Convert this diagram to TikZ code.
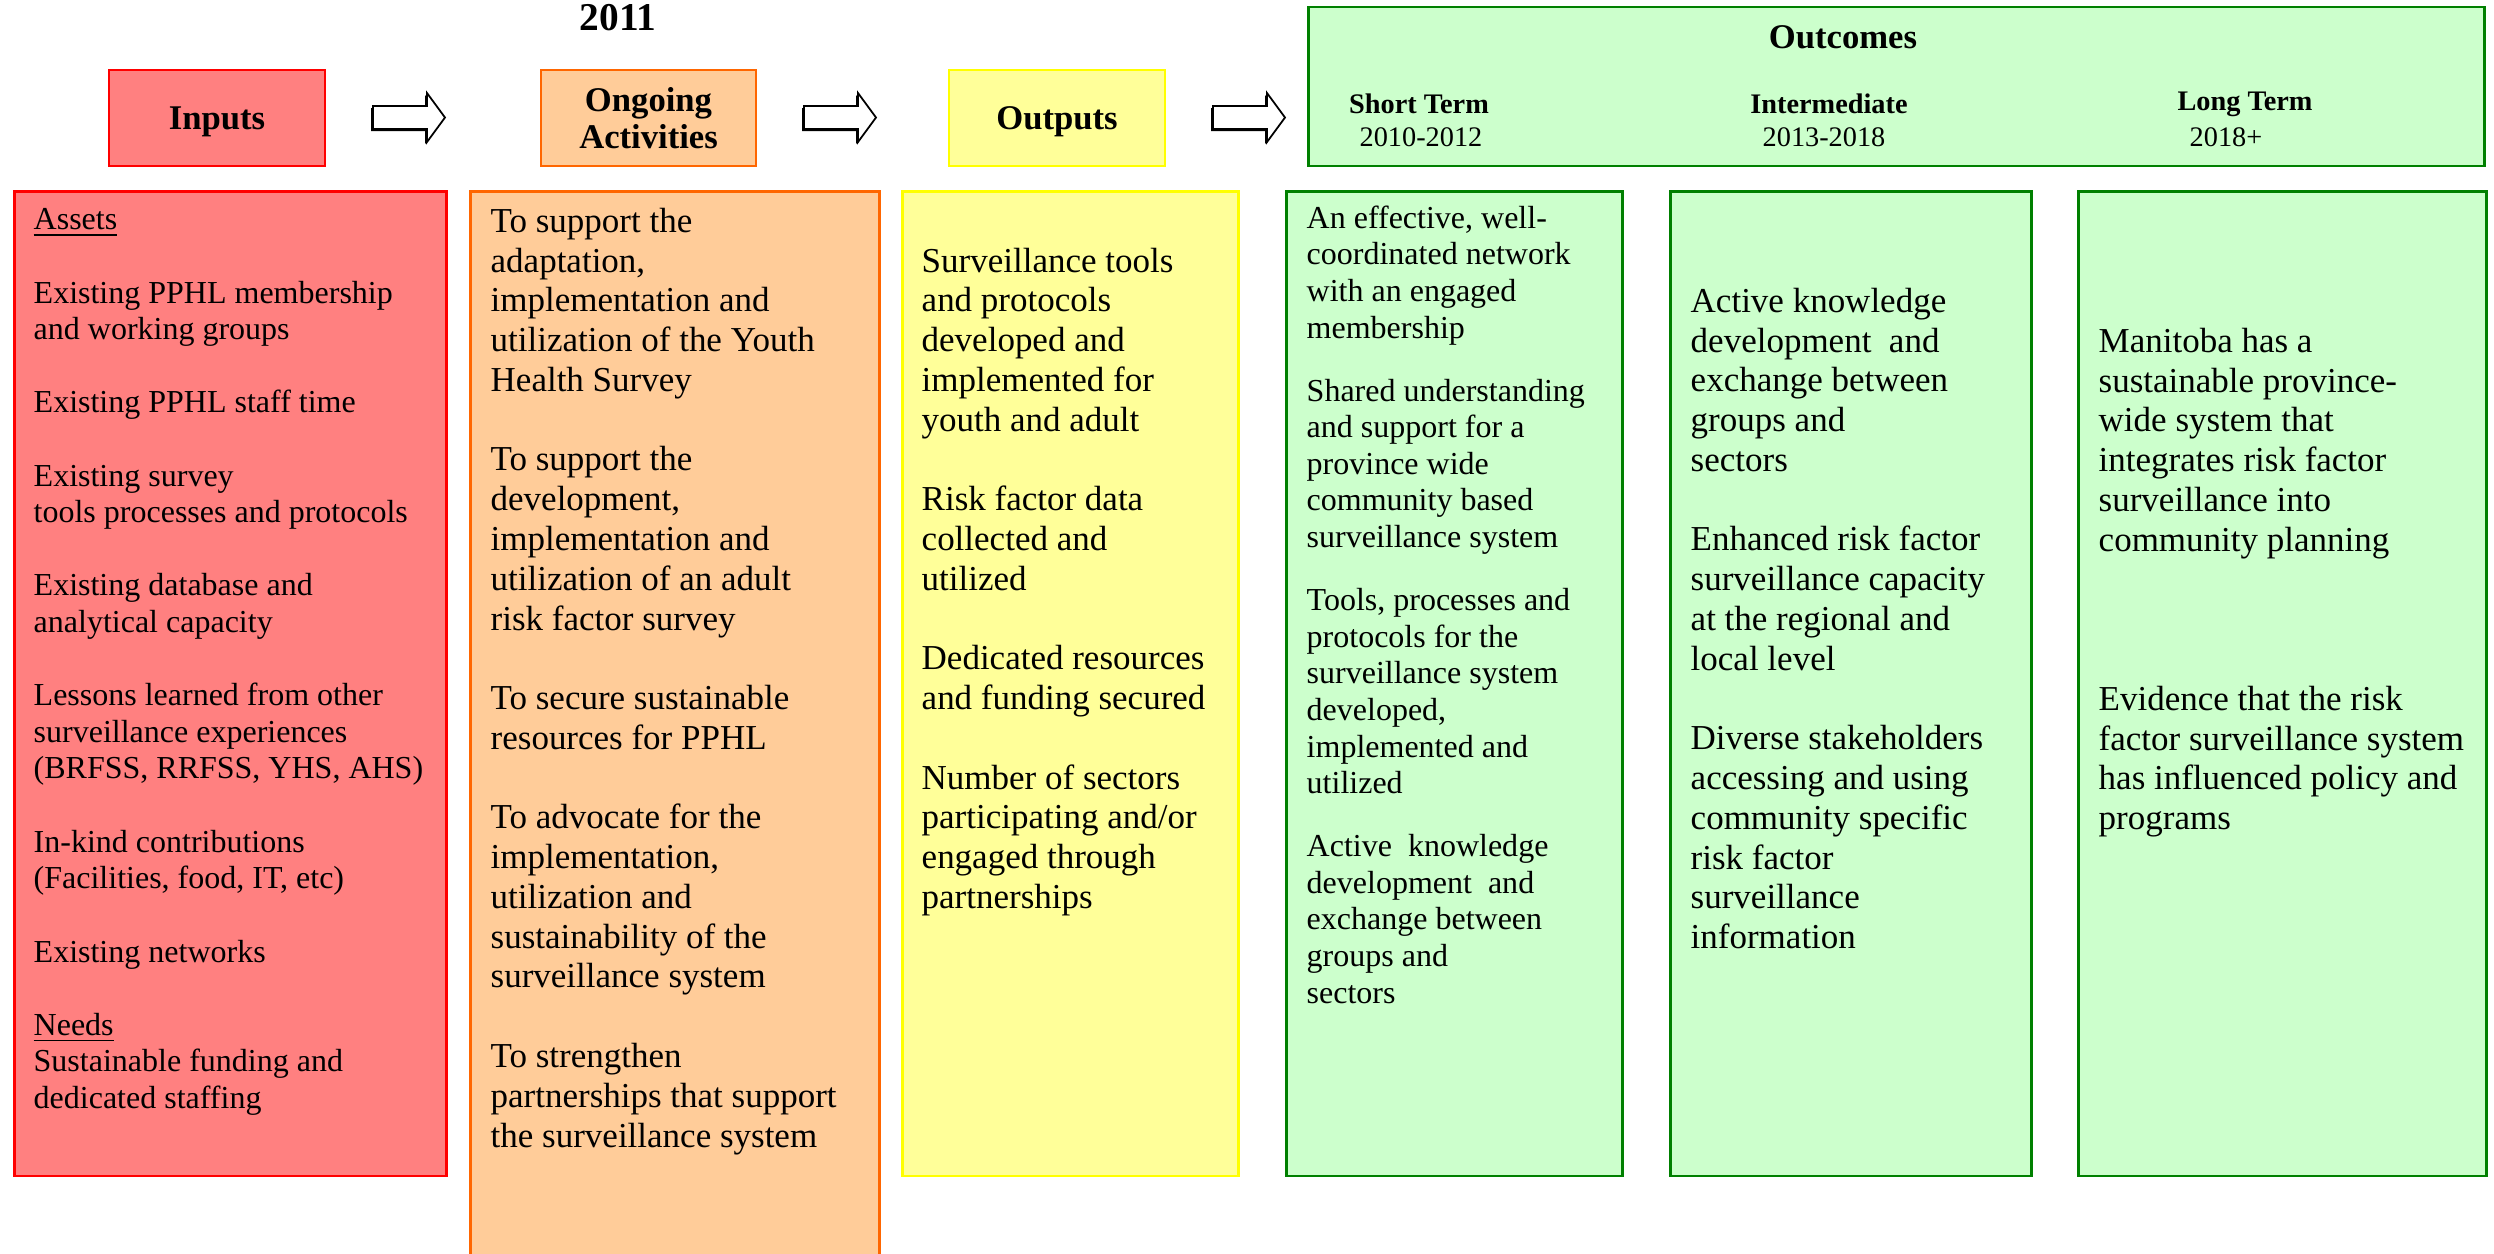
\documentclass[tikz,border=0pt]{standalone}
\usepackage{fontspec}
\setmainfont{Liberation Serif}
\definecolor{inpFill}{RGB}{255,128,128}
\definecolor{inpLine}{RGB}{255,0,0}
\definecolor{actFill}{RGB}{255,204,153}
\definecolor{actLine}{RGB}{255,102,0}
\definecolor{outFill}{RGB}{255,255,153}
\definecolor{outLine}{RGB}{255,255,0}
\definecolor{ocFill}{RGB}{204,255,204}
\definecolor{ocLine}{RGB}{0,128,0}
\tikzset{
  hdr/.style={draw, line width=0.8pt, align=center, inner sep=0pt,
    font=\bfseries\fontsize{9.85}{10.5}\selectfont},
  bodybox/.style={draw, line width=0.8pt, anchor=north west, inner sep=0pt},
  txtS/.style={anchor=north west, align=left, inner sep=0pt,
    font=\fontsize{9.1}{10.41}\selectfont},
  txtL/.style={anchor=north west, align=left, inner sep=0pt,
    font=\fontsize{9.95}{11.31}\selectfont},
  subhd/.style={inner sep=0pt, font=\bfseries\fontsize{8.05}{9}\selectfont},
  yrs/.style={inner sep=0pt, font=\fontsize{8.05}{9}\selectfont},
  blockarrow/.style={draw=black, fill=white, line width=0.5pt, line join=miter},
  arrowshadow/.style={fill=black}
}
\begin{document}
\begin{tikzpicture}[x=0.01cm,y=-0.01cm]
\useasboundingbox (0,0) rectangle (2494,1253);

% title
\node[inner sep=0pt, font=\bfseries\fontsize{11.2}{12}\selectfont] (year) at (618,18) {2011};

% header boxes
\node[hdr, fill=inpFill, draw=inpLine, minimum width=2.16cm, minimum height=0.96cm, text depth=0pt] (inputs) at (217,118) {Inputs};
\node[hdr, fill=actFill, draw=actLine, minimum width=2.15cm, minimum height=0.96cm] (acts) at (648.5,118) {Ongoing\\Activities};
\node[hdr, fill=outFill, draw=outLine, minimum width=2.16cm, minimum height=0.96cm, text depth=0pt] (outputs) at (1057,118) {Outputs};
\node[hdr, fill=ocFill, draw=ocLine, minimum width=11.75cm, minimum height=1.59cm] (outcomes) at (1896.5,86.5) {};
\node[inner sep=0pt, font=\bfseries\fontsize{9.85}{10.5}\selectfont] (octitle) at (1843,37) {Outcomes};
\node[subhd] (short) at (1419,104) {Short Term};
\node[yrs] (shorty) at (1421,137) {2010-2012};
\node[subhd] (inter) at (1829,104) {Intermediate};
\node[yrs] (intery) at (1824,137) {2013-2018};
\node[subhd] (long) at (2245,104) {Long Term};
\node[yrs] (longy) at (2226,137) {2018+};

% block arrows
\foreach \n/\x in {a1/373, a2/804, a3/1213}{
  \coordinate (\n) at (\x,117.5);
  \fill[arrowshadow] ([shift={(-2,2)}]\n) ++(0,-11.5) -- ++(54,0) -- ++(0,-13) -- ++(18,24.5) -- ++(-18,24.5) -- ++(0,-13) -- ++(-54,0) -- cycle;
  \draw[blockarrow] (\n) ++(0,-11.5) -- ++(54,0) -- ++(0,-13) -- ++(18,24.5) -- ++(-18,24.5) -- ++(0,-13) -- ++(-54,0) -- cycle;
}

% body boxes
\node[bodybox, fill=inpFill, draw=inpLine, minimum width=4.32cm, minimum height=9.84cm] (inbody) at (13,190) {};
\node[bodybox, fill=actFill, draw=actLine, minimum width=4.09cm, minimum height=10.9cm] (actbody) at (469,190) {};
\node[bodybox, fill=outFill, draw=outLine, minimum width=3.36cm, minimum height=9.84cm] (outbody) at (901,190) {};
\node[bodybox, fill=ocFill, draw=ocLine, minimum width=3.36cm, minimum height=9.84cm] (g1) at (1285,190) {};
\node[bodybox, fill=ocFill, draw=ocLine, minimum width=3.61cm, minimum height=9.84cm] (g2) at (1669,190) {};
\node[bodybox, fill=ocFill, draw=ocLine, minimum width=4.08cm, minimum height=9.84cm] (g3) at (2077,190) {};

% texts
\node[txtS] (intext) at (33,203.5) {\strut\underline{Assets}\\[10.41pt]
Existing PPHL membership\\
and working groups\\[10.41pt]
Existing PPHL staff time\\[10.41pt]
Existing survey\\
tools processes and protocols\\[10.41pt]
Existing database and\\
analytical capacity\\[10.41pt]
Lessons learned from other\\
surveillance experiences\\
(BRFSS, RRFSS, YHS, AHS)\\[10.41pt]
In-kind contributions\\
(Facilities, food, IT, etc)\\[10.41pt]
Existing networks\\[10.41pt]
\underline{Needs}\\
Sustainable funding and\\
dedicated staffing};

\node[txtL] (acttext) at (490,203.7) {\strut To support the\\
adaptation,\\
implementation and\\
utilization of the Youth\\
Health Survey\\[11.31pt]
To support the\\
development,\\
implementation and\\
utilization of an adult\\
risk factor survey\\[11.31pt]
To secure sustainable\\
resources for PPHL\\[11.31pt]
To advocate for the\\
implementation,\\
utilization and\\
sustainability of the\\
surveillance system\\[11.31pt]
To strengthen\\
partnerships that support\\
the surveillance system};

\node[txtL] (outtext) at (921,243.5) {\strut Surveillance tools\\
and protocols\\
developed and\\
implemented for\\
youth and adult\\[11.31pt]
Risk factor data\\
collected and\\
utilized\\[11.31pt]
Dedicated resources\\
and funding secured\\[11.31pt]
Number of sectors\\
participating and/or\\
engaged through\\
partnerships};

\node[txtS] (g1text) at (1306,202) {\strut An effective, well-\\
coordinated network\\
with an engaged\\
membership\\[7.5pt]
Shared understanding\\
and support for a\\
province wide\\
community based\\
surveillance system\\[7.5pt]
Tools, processes and\\
protocols for the\\
surveillance system\\
developed,\\
implemented and\\
utilized\\[7.5pt]
Active\ \ knowledge\\
development\ \ and\\
exchange between\\
groups and\\
sectors};

\node[txtL] (g2text) at (1690,283.7) {\strut Active knowledge\\
development\ \ and\\
exchange between\\
groups and\\
sectors\\[11.31pt]
Enhanced risk factor\\
surveillance capacity\\
at the regional and\\
local level\\[11.31pt]
Diverse stakeholders\\
accessing and using\\
community specific\\
risk factor\\
surveillance\\
information};

\node[txtL] (g3text) at (2098,323.7) {\strut Manitoba has a\\
sustainable province-\\
wide system that\\
integrates risk factor\\
surveillance into\\
community planning\\[33.93pt]
Evidence that the risk\\
factor surveillance system\\
has influenced policy and\\
programs};
\end{tikzpicture}
\end{document}
